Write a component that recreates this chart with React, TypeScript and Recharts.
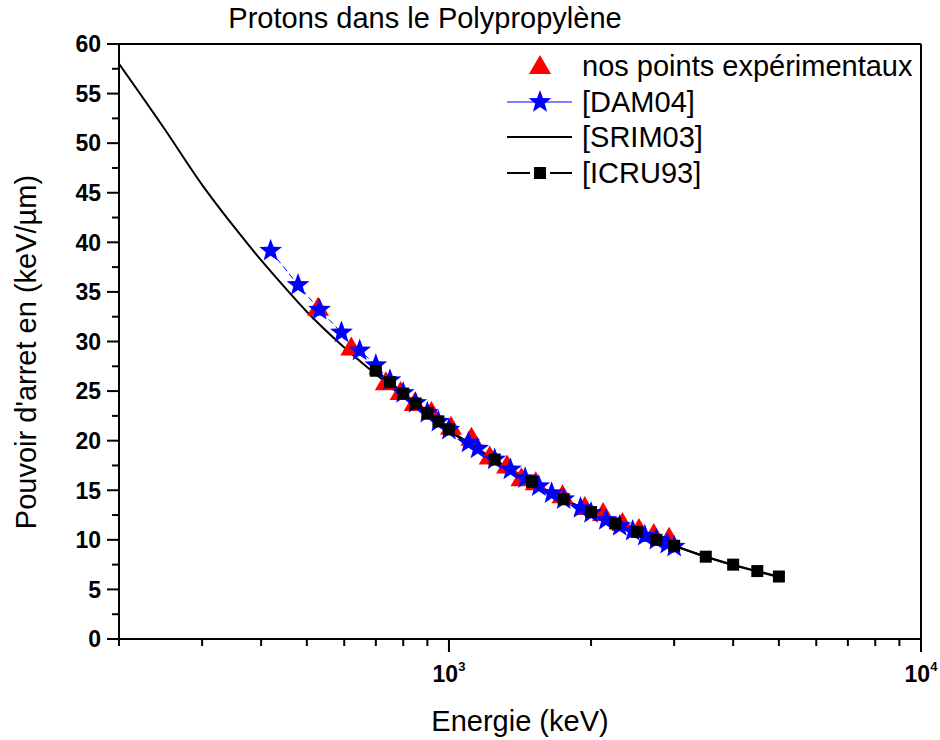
import React from "react";
import { ComposedChart, Line, XAxis, YAxis, ReferenceLine } from "recharts";

// energies in keV, stopping power in keV/µm
const srimEnergy = [200, 250, 300, 350, 400, 450, 500, 600, 700, 800, 900, 1000, 1250, 1500, 1750, 2000, 2500, 3000, 3500, 4000, 4500, 5000];
const srimStopping = [58.0, 51.4, 45.8, 41.6, 38.2, 35.4, 33.0, 29.4, 26.7, 24.5, 22.6, 21.0, 18.0, 15.8, 14.1, 12.8, 10.8, 9.4, 8.3, 7.45, 6.8, 6.25];

const icruEnergy = [700, 750, 800, 850, 900, 950, 1000, 1250, 1500, 1750, 2000, 2250, 2500, 2750, 3000, 3500, 4000, 4500, 5000];
const icruStopping = [27.05, 25.9, 24.75, 23.75, 22.8, 21.95, 21.15, 18.1, 15.85, 14.1, 12.8, 11.65, 10.8, 10.0, 9.4, 8.3, 7.5, 6.85, 6.3];

const expEnergy = [528, 621, 735, 790, 846, 918, 1010, 1116, 1220, 1328, 1424, 1527, 1740, 1940, 2121, 2331, 2527, 2716, 2927];
const expStopping = [33.4, 29.4, 25.9, 24.9, 23.8, 22.9, 21.4, 20.3, 18.4, 17.5, 16.2, 15.8, 14.5, 13.3, 12.7, 11.7, 11.1, 10.6, 10.2];

const damEnergy = [419, 479, 532, 592, 647, 700, 750, 800, 850, 900, 950, 1000, 1100, 1150, 1250, 1350, 1450, 1550, 1650, 1750, 1900, 2000, 2150, 2300, 2450, 2600, 2750, 2900, 3000];
const damStopping = [39.15, 35.7, 33.2, 30.9, 29.1, 27.6, 26.1, 24.8, 23.8, 22.8, 21.9, 21.1, 19.8, 19.2, 18.1, 17.1, 16.2, 15.4, 14.7, 14.1, 13.2, 12.7, 12.0, 11.4, 10.9, 10.4, 10.0, 9.6, 9.3];

const xTicks = [200, 300, 400, 500, 600, 700, 800, 900, 1000, 2000, 3000, 4000, 5000, 6000, 7000, 8000, 9000, 10000];
const yTicks = [0, 2.5, 5, 7.5, 10, 12.5, 15, 17.5, 20, 22.5, 25, 27.5, 30, 32.5, 35, 37.5, 40, 42.5, 45, 47.5, 50, 52.5, 55, 57.5, 60];

const legendLabels = ["nos points expérimentaux", "[DAM04]", "[SRIM03]", "[ICRU93]"];

const FONT = '"Liberation Sans", Arial, sans-serif';

const toPoints = (xs: number[], ys: number[]) => xs.map((x, i) => ({ x, y: ys[i] }));

const starPath = (cx: number, cy: number, R: number, r: number) => {
  const pts: string[] = [];
  for (let i = 0; i < 10; i++) {
    const a = -Math.PI / 2 + (i * Math.PI) / 5;
    const rad = i % 2 === 0 ? R : r;
    pts.push(`${(cx + rad * Math.cos(a)).toFixed(2)},${(cy + rad * Math.sin(a)).toFixed(2)}`);
  }
  return `M${pts.join("L")}Z`;
};

const Triangle = ({ cx, cy }: { cx: number; cy: number }) => (
  <path d={`M${cx},${cy - 11}L${cx + 11},${cy + 8}L${cx - 11},${cy + 8}Z`} fill="#ff0000" />
);

const Star = ({ cx, cy }: { cx: number; cy: number }) => <path d={starPath(cx, cy, 12, 5)} fill="#0000ff" />;

const Square = ({ cx, cy }: { cx: number; cy: number }) => (
  <rect x={cx - 6} y={cy - 6} width={12} height={12} fill="#000" />
);

const YTick = (props: any) => {
  const { x, y, payload } = props;
  const major = payload.value % 5 === 0;
  return (
    <g>
      <line x1={x - (major ? 12 : 7)} x2={x} y1={y} y2={y} stroke="#000" strokeWidth={2} />
      {major && (
        <text x={x - 18} y={y} dy="0.36em" textAnchor="end" fontFamily={FONT} fontWeight="bold" fontSize={23} fill="#000">
          {payload.value}
        </text>
      )}
    </g>
  );
};

const XTick = (props: any) => {
  const { x, y, payload } = props;
  const v = payload.value;
  const major = v === 1000 || v === 10000;
  return (
    <g>
      <line x1={x} x2={x} y1={y} y2={y + (major ? 13 : 7)} stroke="#000" strokeWidth={2} />
      {major && (
        <text x={x} y={y + 43} textAnchor="middle" fontFamily={FONT} fontWeight="bold" fontSize={23} fill="#000">
          10
          <tspan dy={-11} fontSize={13}>
            {v === 1000 ? "3" : "4"}
          </tspan>
        </text>
      )}
    </g>
  );
};

export default function App() {
  const srim = toPoints(srimEnergy, srimStopping);
  const icru = toPoints(icruEnergy, icruStopping);
  const exp = toPoints(expEnergy, expStopping);
  const dam = toPoints(damEnergy, damStopping);

  const rows = [66, 102, 137, 173];

  return (
    <div style={{ position: "absolute", left: 0, top: 0, width: 940, height: 740, background: "#fff" }}>
      <ComposedChart width={940} height={740} margin={{ top: 44, right: 19, bottom: 0, left: 0 }}>
        <XAxis
          dataKey="x"
          type="number"
          scale="log"
          domain={[200, 10000]}
          allowDataOverflow
          ticks={xTicks}
          interval={0}
          height={101}
          tickSize={0}
          tickMargin={0}
          tick={<XTick />}
          axisLine={{ stroke: "#000", strokeWidth: 2 }}
        />
        <YAxis
          dataKey="y"
          type="number"
          domain={[0, 60]}
          allowDataOverflow
          ticks={yTicks}
          interval={0}
          width={119}
          tickSize={0}
          tickMargin={0}
          tick={<YTick />}
          axisLine={{ stroke: "#000", strokeWidth: 2 }}
        />
        <ReferenceLine y={60} stroke="#000" strokeWidth={2} />
        <ReferenceLine x={10000} stroke="#000" strokeWidth={2} />
        <Line
          data={exp}
          dataKey="y"
          stroke="none"
          isAnimationActive={false}
          dot={(p: any) => <Triangle key={`t-${p.index}`} cx={p.cx} cy={p.cy} />}
          activeDot={false}
        />
        <Line
          data={dam}
          dataKey="y"
          type="linear"
          stroke="#0000ff"
          strokeWidth={1}
          strokeDasharray="6 4"
          isAnimationActive={false}
          dot={(p: any) => <Star key={`s-${p.index}`} cx={p.cx} cy={p.cy} />}
          activeDot={false}
        />
        <Line data={srim} dataKey="y" type="monotone" stroke="#000" strokeWidth={2} dot={false} activeDot={false} isAnimationActive={false} />
        <Line
          data={icru}
          dataKey="y"
          type="monotone"
          stroke="#000"
          strokeWidth={2}
          isAnimationActive={false}
          dot={(p: any) => <Square key={`q-${p.index}`} cx={p.cx} cy={p.cy} />}
          activeDot={false}
        />
      </ComposedChart>
      <svg width={940} height={740} style={{ position: "absolute", left: 0, top: 0, pointerEvents: "none" }}>
        <text x={425} y={28} textAnchor="middle" fontFamily={FONT} fontSize={29} fill="#000">
          Protons dans le Polypropylène
        </text>
        <text x={520} y={731} textAnchor="middle" fontFamily={FONT} fontSize={29} fill="#000">
          Energie (keV)
        </text>
        <text x={36} y={352} textAnchor="middle" transform="rotate(-90 36 352)" fontFamily={FONT} fontSize={29} fill="#000">
          Pouvoir d'arret en (keV/µm)
        </text>
        {/* legend */}
        <Triangle cx={540} cy={rows[0]} />
        <line x1={507} x2={572} y1={rows[1]} y2={rows[1]} stroke="#0000ff" strokeWidth={1} />
        <Star cx={540} cy={rows[1]} />
        <line x1={507} x2={572} y1={rows[2]} y2={rows[2]} stroke="#000" strokeWidth={2} />
        <line x1={507} x2={530} y1={rows[3]} y2={rows[3]} stroke="#000" strokeWidth={2} />
        <line x1={550} x2={572} y1={rows[3]} y2={rows[3]} stroke="#000" strokeWidth={2} />
        <Square cx={540} cy={rows[3]} />
        {legendLabels.map((label, i) => (
          <text key={label} x={582} y={rows[i] + 10} fontFamily={FONT} fontSize={29} fill="#000">
            {label}
          </text>
        ))}
      </svg>
    </div>
  );
}
